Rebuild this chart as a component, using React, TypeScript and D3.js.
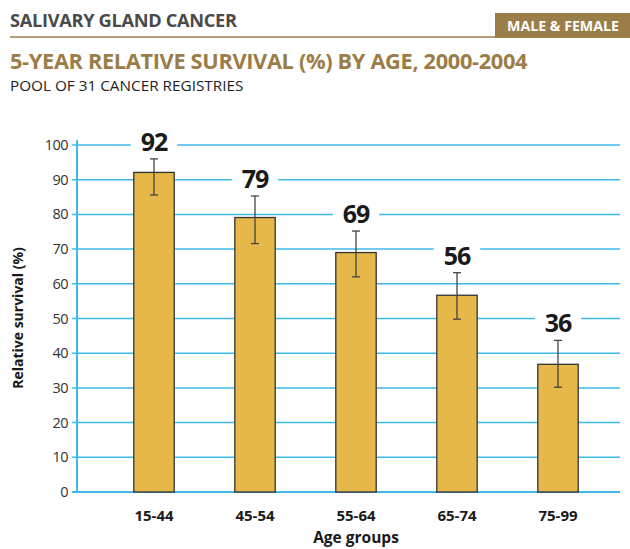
import React from "react";
import * as d3 from "d3";

const categories = ["15-44", "45-54", "55-64", "65-74", "75-99"];
const survival = [92.1, 79.1, 69.0, 56.7, 36.8];
const labels = ["92", "79", "69", "56", "36"];
const lower = [85.6, 71.6, 62.0, 49.8, 30.2];
const upper = [96.0, 85.3, 75.2, 63.2, 43.7];
const yTicks = [0, 10, 20, 30, 40, 50, 60, 70, 80, 90, 100];

const W = 630, H = 549;
const left = 77, right = 620, top = 145, bottom = 492;

export default function App() {
  const y = d3.scaleLinear().domain([0, 100]).range([bottom, top]);
  const x = d3.scaleBand().domain(categories).range([103.5, 608.5]).paddingInner(0.6).paddingOuter(0.3);
  const bw = x.bandwidth();
  const font = "'Open Sans', 'Noto Sans', sans-serif";
  const gold = "#9b7d48";
  const grid = "#3fb8ea";
  return (
    <svg width={W} height={H} style={{ position: "absolute", left: 0, top: 0 }} fontFamily={font}>
      <rect width={W} height={H} fill="#fff" />
      <text x={10} y={27} fontSize={18.2} fontWeight="bold" fill="#4a4a4a" letterSpacing={-0.3}>SALIVARY GLAND CANCER</text>
      <line x1={10} x2={495} y1={37} y2={37} stroke={gold} strokeWidth={1.5} />
      <rect x={495} y={13} width={135} height={25} fill={gold} />
      <text x={563} y={30.5} fontSize={14.2} fontWeight="bold" fill="#fff" textAnchor="middle">MALE &amp; FEMALE</text>
      <text x={10} y={69} fontSize={21.8} fontWeight="bold" fill={gold} letterSpacing={-0.35}>5-YEAR RELATIVE SURVIVAL (%) BY AGE, 2000-2004</text>
      <text x={10} y={91} fontSize={15.3} fill="#222">POOL OF 31 CANCER REGISTRIES</text>

      {yTicks.map((t) => (
        <g key={t}>
          <line x1={72} x2={right} y1={y(t)} y2={y(t)} stroke={grid} strokeWidth={t === 0 ? 2 : 1.5} />
          <text x={68} y={y(t) + 5} fontSize={14.5} fill="#333" textAnchor="end" letterSpacing={-0.5}>{t}</text>
        </g>
      ))}
      <line x1={left} x2={left} y1={140} y2={bottom + 1} stroke={grid} strokeWidth={2} />

      {categories.map((c, i) => {
        const cx = (x(c) as number) + bw / 2;
        const et = y(upper[i]);
        return (
          <g key={c}>
            <rect x={x(c)} y={y(survival[i])} width={bw} height={bottom - y(survival[i])} fill="#e6b84a" stroke="#333" strokeWidth={1.3} />
            <line x1={cx} x2={cx} y1={y(upper[i])} y2={y(lower[i])} stroke="#444" strokeWidth={1.3} />
            <line x1={cx - 4} x2={cx + 4} y1={y(upper[i])} y2={y(upper[i])} stroke="#444" strokeWidth={1.3} />
            <line x1={cx - 4} x2={cx + 4} y1={y(lower[i])} y2={y(lower[i])} stroke="#444" strokeWidth={1.3} />
            <rect x={x(c)! - 3} y={et - 30} width={bw + 6} height={24} fill="#fff" />
            <text x={cx} y={et - 8} fontSize={25} fontWeight="bold" fill="#1a1a1a" textAnchor="middle" letterSpacing={-1}>{labels[i]}</text>
            <text x={cx} y={521} fontSize={15} fontWeight="bold" fill="#1a1a1a" textAnchor="middle">{c}</text>
          </g>
        );
      })}
      <text x={356} y={543} fontSize={15.5} fontWeight="bold" fill="#1a1a1a" textAnchor="middle">Age groups</text>
      <text transform={`translate(23,${318}) rotate(-90)`} fontSize={14} fontWeight="bold" fill="#1a1a1a" textAnchor="middle">Relative survival (%)</text>
    </svg>
  );
}
